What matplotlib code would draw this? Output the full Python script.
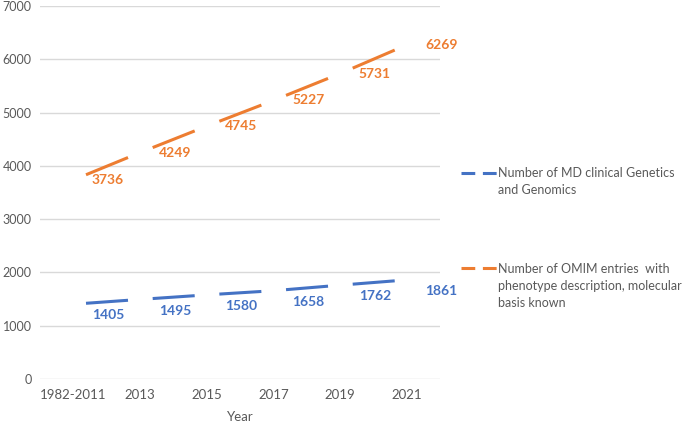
import matplotlib.pyplot as plt
import numpy as np

# --- DATA ---
years = ["1982-2011", "2013", "2015", "2017", "2019", "2021"]
md_genetics = [1405, 1495, 1580, 1658, 1762, 1861]
omim_entries = [3736, 4249, 4745, 5227, 5731, 6269]

SERIES = [
    ("Number of MD clinical Genetics\nand Genomics", md_genetics, "#4472C4", -8),
    ("Number of OMIM entries  with\nphenotype description, molecular\nbasis known", omim_entries, "#ED7D31", 0),
]

plt.rcParams['font.family'] = ['Lato', 'DejaVu Sans']

fig = plt.figure(figsize=(6.85, 4.25), dpi=100)
ax = fig.add_axes([0.0584, 0.108, 0.584, 0.878])

x = np.arange(len(years))

# Excel-style long dash: one dash centred in each interval between categories
for name, vals, color, dy in SERIES:
    vals = np.asarray(vals, dtype=float)
    for i in range(len(vals) - 1):
        t = np.array([0.19, 0.82])
        ax.plot(x[i] + t, vals[i] + (vals[i + 1] - vals[i]) * t,
                color=color, linewidth=2.2, solid_capstyle='butt')
    # legend handle only
    ax.plot([], [], color=color, linewidth=2.2, dashes=(4.5, 2.5), label=name)
    for xi, v in zip(x, vals):
        ax.annotate(f"{int(v)}", (xi, v), xytext=(25, dy), textcoords='offset points',
                    ha='center', va='center', color=color, fontsize=10, fontweight='bold')

ax.set_xlim(-0.5, len(years) - 0.5)
ax.set_ylim(0, 7000)
ax.set_yticks(range(0, 7001, 1000))
ax.set_xticks(x)
ax.set_xticklabels(years)
ax.tick_params(axis='both', length=0, labelcolor='#595959')
ax.tick_params(axis='y', pad=6, labelsize=9)
ax.tick_params(axis='x', pad=7, labelsize=9.5)
ax.grid(axis='y', color='#d9d9d9', linewidth=1)
ax.set_axisbelow(True)
for s in ax.spines.values():
    s.set_visible(False)

ax.set_xlabel("Year", fontsize=9.5, color='#595959', labelpad=7)

leg = fig.legend(loc='upper left', bbox_to_anchor=(0.657, 0.634), frameon=False,
                 fontsize=9, labelcolor='#595959', handlelength=2.85, handletextpad=0.1,
                 labelspacing=5.4)
# Excel puts the legend key next to the first line of a wrapped label
line_h = 9 * 1.48
for t, h in zip(leg.get_texts(), leg.legend_handles):
    t.set_linespacing(1.48)
    n_lines = t.get_text().count("\n") + 1
    h.set_ydata(np.asarray(h.get_ydata()) + (n_lines - 1) / 2 * line_h)

fig.savefig("out.png", dpi=100)
